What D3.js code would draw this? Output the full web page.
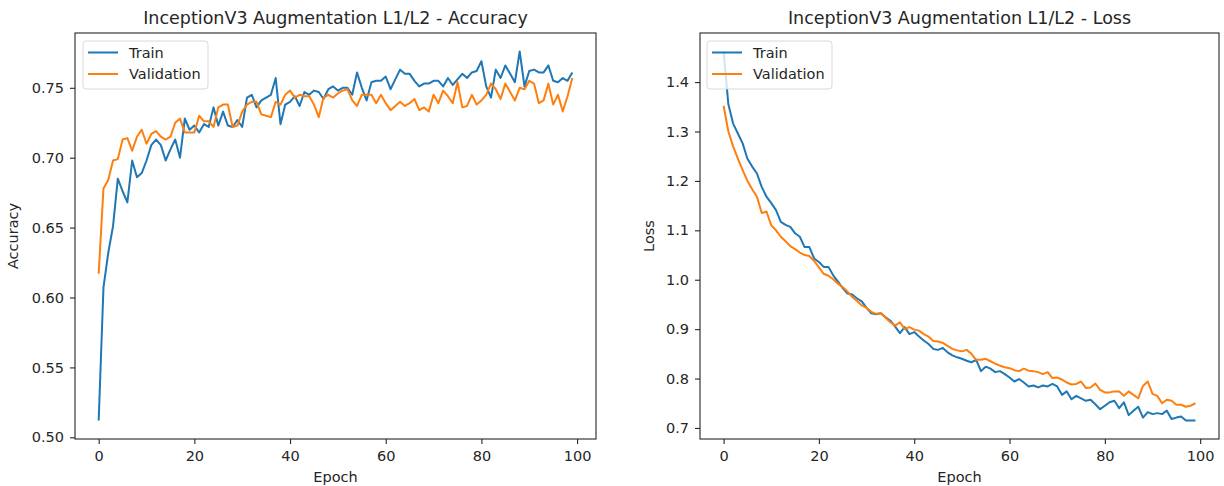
<!DOCTYPE html>
<meta charset="utf-8">
<style>
body { margin: 0; background: #fff; }
text { font-family: "DejaVu Sans", sans-serif; fill: #262626; }
.tick line, .domain { stroke: #262626; }
</style>
<body>
<script src="https://d3js.org/d3.v7.min.js"></script>
<script>

var w = 1224, h = 486;

// values
var epochs = d3.range(100);

var trainAcc = [0.512,0.607,0.632,0.651,0.685,0.676,0.668,0.698,0.686,0.689,
  0.698,0.709,0.713,0.709,0.698,0.706,0.713,0.700,0.728,0.720,
  0.723,0.718,0.724,0.722,0.736,0.723,0.733,0.723,0.722,0.727,
  0.722,0.743,0.745,0.736,0.741,0.743,0.745,0.757,0.724,0.738,
  0.740,0.744,0.737,0.747,0.745,0.748,0.747,0.742,0.749,0.751,
  0.748,0.750,0.750,0.745,0.761,0.750,0.741,0.754,0.755,0.755,
  0.758,0.749,0.756,0.763,0.760,0.760,0.755,0.751,0.753,0.753,
  0.755,0.755,0.751,0.757,0.752,0.756,0.760,0.757,0.761,0.762,
  0.769,0.751,0.743,0.763,0.757,0.766,0.760,0.754,0.776,0.751,
  0.762,0.763,0.761,0.761,0.766,0.755,0.754,0.757,0.755,0.761];

var valAcc = [0.617,0.678,0.684,0.698,0.699,0.713,0.714,0.705,0.715,0.720,
  0.710,0.717,0.719,0.715,0.713,0.715,0.725,0.728,0.718,0.718,
  0.718,0.730,0.726,0.726,0.722,0.736,0.738,0.738,0.722,0.723,
  0.733,0.738,0.740,0.740,0.731,0.730,0.729,0.740,0.738,0.745,
  0.748,0.743,0.745,0.744,0.744,0.738,0.729,0.743,0.745,0.743,
  0.746,0.748,0.749,0.741,0.737,0.745,0.745,0.745,0.739,0.745,
  0.739,0.734,0.737,0.740,0.737,0.739,0.742,0.734,0.736,0.733,
  0.745,0.739,0.748,0.744,0.739,0.754,0.736,0.737,0.745,0.738,
  0.741,0.745,0.753,0.749,0.742,0.753,0.747,0.741,0.750,0.749,
  0.755,0.753,0.739,0.741,0.753,0.738,0.745,0.733,0.744,0.757];

var trainLoss = [1.462,1.355,1.316,1.296,1.276,1.245,1.229,1.215,1.188,1.168,
  1.155,1.141,1.117,1.111,1.107,1.094,1.087,1.066,1.066,1.043,
  1.036,1.026,1.026,1.009,0.996,0.983,0.972,0.970,0.962,0.956,
  0.943,0.932,0.930,0.932,0.924,0.917,0.905,0.892,0.904,0.890,
  0.894,0.885,0.877,0.870,0.860,0.858,0.862,0.853,0.847,0.843,
  0.840,0.836,0.833,0.838,0.815,0.824,0.820,0.813,0.815,0.809,
  0.802,0.794,0.799,0.792,0.784,0.786,0.782,0.786,0.784,0.789,
  0.784,0.767,0.774,0.758,0.765,0.760,0.755,0.757,0.748,0.738,
  0.745,0.752,0.755,0.740,0.752,0.726,0.735,0.743,0.721,0.732,
  0.728,0.730,0.728,0.735,0.718,0.721,0.723,0.715,0.715,0.715];

var valLoss = [1.352,1.300,1.270,1.245,1.222,1.200,1.183,1.168,1.135,1.138,
  1.110,1.100,1.087,1.078,1.068,1.062,1.055,1.050,1.048,1.038,
  1.025,1.012,1.008,1.001,0.992,0.985,0.976,0.965,0.957,0.948,
  0.943,0.935,0.931,0.932,0.923,0.914,0.907,0.914,0.900,0.904,
  0.899,0.897,0.890,0.885,0.876,0.875,0.872,0.866,0.860,0.857,
  0.855,0.858,0.850,0.838,0.838,0.840,0.835,0.830,0.826,0.823,
  0.821,0.817,0.815,0.820,0.816,0.815,0.813,0.809,0.813,0.801,
  0.802,0.798,0.792,0.788,0.789,0.794,0.781,0.782,0.790,0.777,
  0.772,0.772,0.774,0.774,0.765,0.774,0.767,0.760,0.785,0.794,
  0.769,0.765,0.750,0.757,0.755,0.747,0.747,0.743,0.745,0.750];

var xTicks = [0, 20, 40, 60, 80, 100];
var accTicks = [0.50, 0.55, 0.60, 0.65, 0.70, 0.75];
var lossTicks = [0.7, 0.8, 0.9, 1.0, 1.1, 1.2, 1.3, 1.4];
var seriesNames = ["Train", "Validation"];
var colors = ["#1f77b4", "#ff7f0e"];

var svg = d3.select("body").append("svg")
    .attr("width", w)
    .attr("height", h);

svg.append("rect").attr("width", w).attr("height", h).attr("fill", "#fff");

// pad like matplotlib: 5% each side
function padded(ext) {
    var p = (ext[1] - ext[0]) * 0.05;
    return [ext[0] - p, ext[1] + p];
}

function drawPanel(opt) {
    var g = svg.append("g").attr("transform", "translate(" + opt.left + "," + opt.top + ")");
    var width = opt.width, height = opt.height;

    var x = d3.scaleLinear()
        .domain(padded(d3.extent(epochs)))
        .range([0, width]);
    var y = d3.scaleLinear()
        .domain(padded(d3.extent(opt.series[0].concat(opt.series[1]))))
        .range([height, 0]);

    var line = d3.line()
        .x(function(d, i) { return x(epochs[i]); })
        .y(function(d) { return y(d); });

    opt.series.forEach(function(s, k) {
        g.append("path")
            .datum(s)
            .attr("fill", "none")
            .attr("stroke", colors[k])
            .attr("stroke-width", 2)
            .attr("stroke-linejoin", "round")
            .attr("d", line);
    });

    // spines
    g.append("rect")
        .attr("width", width).attr("height", height)
        .attr("fill", "none").attr("stroke", "#262626").attr("stroke-width", 1.1);

    var xAxis = g.append("g")
        .attr("transform", "translate(0," + height + ")")
        .call(d3.axisBottom(x).tickValues(xTicks).tickSize(5).tickPadding(7).tickSizeOuter(0));
    var yAxis = g.append("g")
        .call(d3.axisLeft(y).tickValues(opt.yTicks).tickFormat(d3.format(opt.fmt)).tickSize(5).tickPadding(6).tickSizeOuter(0));
    [xAxis, yAxis].forEach(function(a) {
        a.select(".domain").remove();
        a.selectAll("text").attr("font-size", "14.5px").attr("font-family", "DejaVu Sans").attr("fill", "#262626");
        a.selectAll("line").attr("stroke-width", 1.1);
    });

    g.append("text")
        .attr("x", width / 2).attr("y", -9)
        .attr("text-anchor", "middle")
        .attr("font-size", "17.5px")
        .text(opt.title);

    g.append("text")
        .attr("x", width / 2).attr("y", height + 43)
        .attr("text-anchor", "middle")
        .attr("font-size", "14.5px")
        .text("Epoch");

    g.append("text")
        .attr("transform", "translate(" + opt.ylabelX + "," + (height / 2) + ") rotate(-90)")
        .attr("text-anchor", "middle")
        .attr("font-size", "14.5px")
        .text(opt.ylabel);

    // legend
    var lg = g.append("g").attr("transform", "translate(" + opt.legX + ",8)");
    lg.append("rect")
        .attr("width", 125).attr("height", 48).attr("rx", 3)
        .attr("fill", "#fff").attr("fill-opacity", 0.8)
        .attr("stroke", "#d9d9d9").attr("stroke-width", 1);
    seriesNames.forEach(function(n, k) {
        var yy = 11.5 + k * 21.5;
        lg.append("line")
            .attr("x1", 5).attr("x2", 35).attr("y1", yy).attr("y2", yy)
            .attr("stroke", colors[k]).attr("stroke-width", 2);
        lg.append("text")
            .attr("x", 46).attr("y", yy + 5)
            .attr("font-size", "14.5px")
            .text(n);
    });
}

drawPanel({
    left: 75, top: 33, width: 521, height: 406,
    series: [trainAcc, valAcc], yTicks: accTicks, fmt: ".2f",
    title: "InceptionV3 Augmentation L1/L2 - Accuracy",
    ylabel: "Accuracy", ylabelX: -57, legX: 8
});

drawPanel({
    left: 700, top: 33, width: 519, height: 406,
    series: [trainLoss, valLoss], yTicks: lossTicks, fmt: ".1f",
    title: "InceptionV3 Augmentation L1/L2 - Loss",
    ylabel: "Loss", ylabelX: -46, legX: 7
});

</script>
</body>
